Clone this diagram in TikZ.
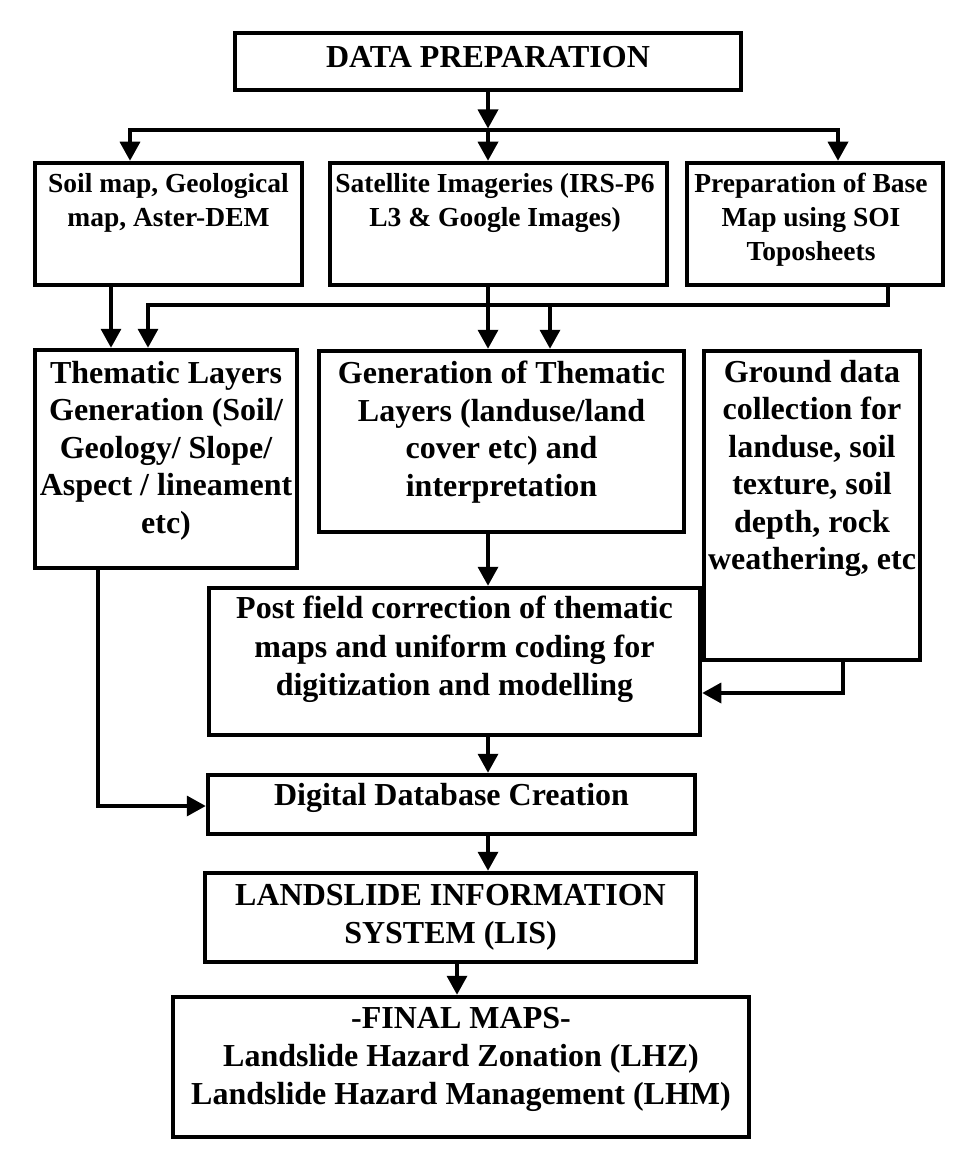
\documentclass[tikz,border=0pt]{standalone}
\usepackage{fontspec}
\setmainfont{Liberation Serif}
\usetikzlibrary{arrows.meta}
\begin{document}
\begin{tikzpicture}[x=1pt,y=-1pt,
  box/.style={draw, line width=4.5pt, inner sep=0pt, rectangle},
  conn/.style={line width=3.5pt},
  arr/.style={conn, -{Triangle[length=19pt,width=20pt]}},
  big/.style={font=\fontsize{32}{37.5}\selectfont\bfseries, align=center, inner sep=0pt, anchor=north},
  small/.style={font=\fontsize{27.5}{34}\selectfont\bfseries, align=center, inner sep=0pt, anchor=north}]
\fill[white] (0,0) rectangle (961,1158);
\useasboundingbox (0,0) rectangle (961,1158);

% boxes
\node[box, minimum width=506pt, minimum height=57pt] (dp) at (488,61.5) {};
\node[box, minimum width=267pt, minimum height=122pt] (sA) at (168.5,224) {};
\node[box, minimum width=337pt, minimum height=122pt] (sB) at (498.5,224) {};
\node[box, minimum width=256pt, minimum height=122pt] (sC) at (815,224) {};
\node[box, minimum width=262pt, minimum height=218pt] (tD) at (166,459) {};
\node[box, minimum width=365pt, minimum height=181pt] (tE) at (501.5,441.5) {};
\node[box, minimum width=216pt, minimum height=309pt] (tF) at (812,505.5) {};
\node[box, minimum width=491pt, minimum height=147pt] (pG) at (454.5,661.5) {};
\node[box, minimum width=487pt, minimum height=59pt] (dH) at (451.5,804.5) {};
\node[box, minimum width=491pt, minimum height=89pt] (lI) at (450.5,917.5) {};
\node[box, minimum width=576pt, minimum height=140pt] (fJ) at (461,1067) {};

% texts
\node[big] (dpt) at (488,46) {DATA PREPARATION};
\node[small] (sAt) at (168.5,173) {Soil map, Geological\\map, Aster-DEM};
\node[small] (sBt) at (495,173) {Satellite Imageries (IRS-P6\\L3 \& Google Images)};
\node[small] (sCt) at (811,173) {Preparation of Base\\Map using SOI\\Toposheets};
\node[big] (tDt) at (166,361) {Thematic Layers\\Generation (Soil/\\Geology/ Slope/\\Aspect / lineament\\etc)};
\node[big] (tEt) at (501.5,361) {Generation of Thematic\\Layers (landuse/land\\cover etc) and\\interpretation};
\node[big] (tFt) at (812,360) {Ground data\\collection for\\landuse, soil\\texture, soil\\depth, rock\\weathering, etc};
\node[big, font=\fontsize{32}{38.5}\selectfont\bfseries] (pGt) at (454.5,596) {Post field correction of thematic\\maps and uniform coding for\\digitization and modelling};
\node[big] (dHt) at (451.5,783) {Digital Database Creation};
\node[big, font=\fontsize{32}{38}\selectfont\bfseries] (lIt) at (450.5,884) {LANDSLIDE INFORMATION\\SYSTEM (LIS)};
\node[big, font=\fontsize{32}{38}\selectfont\bfseries] (fJt) at (461,1007) {-FINAL MAPS-\\Landslide Hazard Zonation (LHZ)\\Landslide Hazard Management (LHM)};

% connector coordinates
\coordinate (bM) at (488,130);
\coordinate (bL) at (130,130);
\coordinate (bR) at (838,130);
\coordinate (aX) at (111,300);
\coordinate (cR) at (888,305);
\coordinate (cL) at (148,305);
\coordinate (cM) at (550,305);
\coordinate (fC) at (843,693);
\coordinate (dC) at (98,806);
\coordinate (iX) at (457,965);

% connectors
\draw[arr, shorten >=1.5pt] (dp.south) -- (bM);
\draw[arr] (bM) -- (bL) -- (bL |- sA.north);
\draw[arr] (bM) -- (bR) -- (bR |- sC.north);
\draw[arr] (bM) -- (bM |- sB.north);
\draw[arr] (sA.south -| aX) -- (tD.north -| aX);
\draw[arr] (sC.south -| cR) -- (cR) -- (cL) -- (cL |- tD.north);
\draw[arr] (cM) -- (cM |- tE.north);
\draw[arr] (sB.south -| bM) -- (tE.north -| bM);
\draw[arr] (tE.south -| bM) -- (pG.north -| bM);
\draw[arr] (tF.south -| fC) -- (fC) -- (fC -| pG.east);
\draw[arr] (pG.south -| bM) -- (dH.north -| bM);
\draw[arr] (tD.south -| dC) -- (dC) -- (dC -| dH.west);
\draw[arr] (dH.south -| bM) -- (lI.north -| bM);
\draw[arr] (lI.south -| iX) -- (fJ.north -| iX);
\end{tikzpicture}
\end{document}
